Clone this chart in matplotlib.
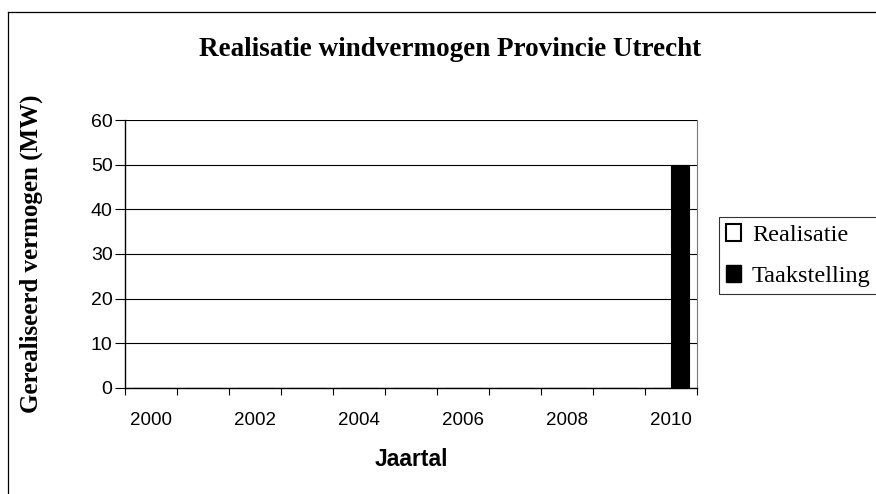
import matplotlib
matplotlib.use("Agg")
import matplotlib.pyplot as plt
import numpy as np
from matplotlib.lines import Line2D
from matplotlib.patches import Patch

years = [2000, 2001, 2002, 2003, 2004, 2005, 2006, 2007, 2008, 2009, 2010]
realisatie = [0, 0, 0, 0, 0, 0, 0, 0, 0, 0, 0]
taakstelling = [0, 0, 0, 0, 0, 0, 0, 0, 0, 0, 50]
tick_labels = ["2000", "", "2002", "", "2004", "", "2006", "", "2008", "", "2010"]

serif = ["Liberation Serif", "DejaVu Serif"]
sans = ["Liberation Sans", "DejaVu Sans"]

fig = plt.figure(figsize=(8.76, 4.94), dpi=100)
ax = fig.add_axes([125/876, 1-388/494, (697-125)/876, (388-120)/494])

x = np.arange(len(years))
w = 0.35
ax.bar(x - w/2, realisatie, width=w, color="white", edgecolor="black", linewidth=0.8, zorder=3)
ax.bar(x + w/2, taakstelling, width=w, color="black", edgecolor="black", linewidth=0.8, zorder=3)

ax.set_xlim(-0.5, len(years) - 0.5)
ax.set_ylim(0, 60)
ax.set_yticks(range(0, 61, 10))
ax.set_yticklabels([str(v) for v in range(0, 61, 10)], fontfamily=sans, fontsize=14)
ax.set_xticks(x)
ax.set_xticklabels(tick_labels, fontfamily=sans, fontsize=13.5)
ax.set_xticks(np.arange(-0.5, len(years), 1), minor=True)
ax.tick_params(axis="x", which="major", length=0, pad=17)
ax.tick_params(axis="x", which="minor", length=5, width=0.8, direction="out")
ax.tick_params(axis="y", length=7, width=0.8, direction="out", pad=2)

ax.grid(axis="y", color="black", linewidth=0.8, zorder=0)
ax.set_axisbelow(True)
for s in ["left", "bottom"]:
    ax.spines[s].set_color("black")
    ax.spines[s].set_linewidth(1.0)
ax.spines["top"].set_visible(False)
ax.spines["right"].set_color("#777777")
ax.spines["right"].set_linewidth(0.8)
ax.spines["right"].set_linestyle((0, (2, 1)))

ax.set_xlabel("Jaartal", fontfamily=sans, fontweight="bold", fontsize=16.5, labelpad=14)
ax.set_ylabel("Gerealiseerd vermogen (MW)", fontfamily=serif, fontweight="bold", fontsize=18, labelpad=34)

fig.text(450/876, 1-49/494, "Realisatie windvermogen Provincie Utrecht", ha="center", va="center",
         fontfamily=serif, fontweight="bold", fontsize=19.5)

handles = [Patch(facecolor="white", edgecolor="black", linewidth=1.5, label="Realisatie"),
           Patch(facecolor="black", edgecolor="black", label="Taakstelling")]
leg = fig.legend(handles=handles, loc="upper left", bbox_to_anchor=(719/876, 1-217/494),
                 prop={"family": serif, "size": 17.5}, frameon=True, fancybox=False,
                 handlelength=0.6, handleheight=0.7, handletextpad=0.45, borderpad=0.3,
                 labelspacing=0.75, borderaxespad=0)
leg.get_frame().set_edgecolor("black")
leg.get_frame().set_linewidth(0.8)

fig.add_artist(Line2D([8/876, 1], [1-12/494, 1-12/494], transform=fig.transFigure, color="black", linewidth=0.9))
fig.add_artist(Line2D([8/876, 8/876], [0, 1-12/494], transform=fig.transFigure, color="black", linewidth=0.9))

fig.savefig("out.png", dpi=100)
